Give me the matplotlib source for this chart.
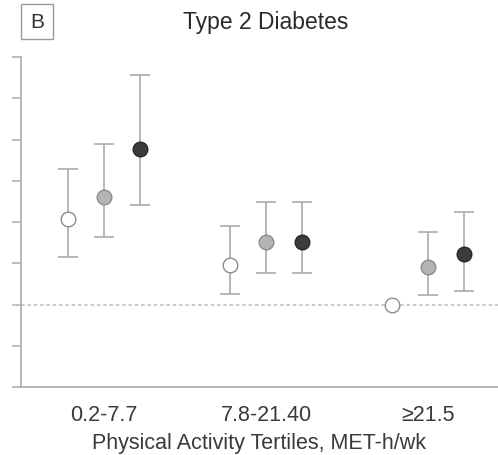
import matplotlib.pyplot as plt
from matplotlib.patches import Rectangle
import numpy as np

plt.rcParams['font.family'] = ['Liberation Sans', 'DejaVu Sans']

# tertiles and series (arbitrary linear units)
tertiles = ["0.2-7.7", "7.8-21.40", "\u226521.5"]
series_colors = ["#ffffff", "#b4b4b4", "#3c3c3c"]
series_edges = ["#8c8c8c", "#8c8c8c", "#262626"]

est = [
    [4.07, 2.96, 2.00],
    [4.61, 3.52, 2.91],
    [5.77, 3.52, 3.22],
]
lower = [
    [3.15, 2.25, None],
    [3.64, 2.76, 2.23],
    [4.41, 2.76, 2.33],
]
upper = [
    [5.28, 3.90, None],
    [5.89, 4.48, 3.76],
    [7.56, 4.48, 4.24],
]
ref_value = 2.0

W, H = 498, 456
fig = plt.figure(figsize=(W / 100, H / 100), dpi=100)
ax = fig.add_axes([21 / W, 68 / H, 1 - 21 / W, 330 / H])

x = np.arange(len(tertiles))
offsets = [-0.222, 0.0, 0.222]
grey = "#ababab"

# reference line (runs a little past the y axis, like a tick)
ax.axhline(ref_value, color="#c8c8c8", lw=1.3, ls=(0, (2, 1.5)), zorder=1)
ax.plot([-9 / 477, 0], [ref_value, ref_value], transform=ax.get_yaxis_transform(),
        color="#c8c8c8", lw=1.3, ls=(0, (2, 1.5)), clip_on=False)

for k in range(3):
    for i in range(len(tertiles)):
        xi = x[i] + offsets[k]
        if lower[k][i] is not None:
            ax.errorbar(xi, est[k][i],
                        yerr=[[est[k][i] - lower[k][i]], [upper[k][i] - est[k][i]]],
                        fmt="none", ecolor=grey, elinewidth=1.2, capsize=7,
                        capthick=1.2, zorder=2)
        ax.plot(xi, est[k][i], "o", ms=10.5, mfc=series_colors[k],
                mec=series_edges[k], mew=1.0, zorder=3)

ax.set_xlim(-0.512, 2.43)
ax.set_ylim(0, 8)
ax.set_yticks(np.arange(0, 9, 1))
ax.set_yticklabels([])
ax.set_xticks(x)
ax.set_xticklabels(tertiles, fontsize=15.5, color="#3a3a3a")
ax.tick_params(axis="y", length=6.5, width=1.1, color=grey)
ax.tick_params(axis="x", length=0, pad=12)

for s in ["top", "right"]:
    ax.spines[s].set_visible(False)
for s in ["left", "bottom"]:
    ax.spines[s].set_color(grey)
    ax.spines[s].set_linewidth(1.2)

ax.set_xlabel("Physical Activity Tertiles, MET-h/wk", fontsize=15.5,
              color="#3a3a3a", labelpad=5)

fig.text(266 / W, 1 - 23 / H, "Type 2 Diabetes", fontsize=16.5,
         ha="center", va="center", color="#2a2a2a")
fig.add_artist(Rectangle((21 / W, 1 - 40 / H), 32 / W, 35 / H,
                         transform=fig.transFigure, fill=False,
                         ec="#999999", lw=1))
fig.text(37 / W, 1 - 23 / H, "B", fontsize=15, ha="center", va="center",
         color="#333333")

fig.savefig("out.png", dpi=100)
